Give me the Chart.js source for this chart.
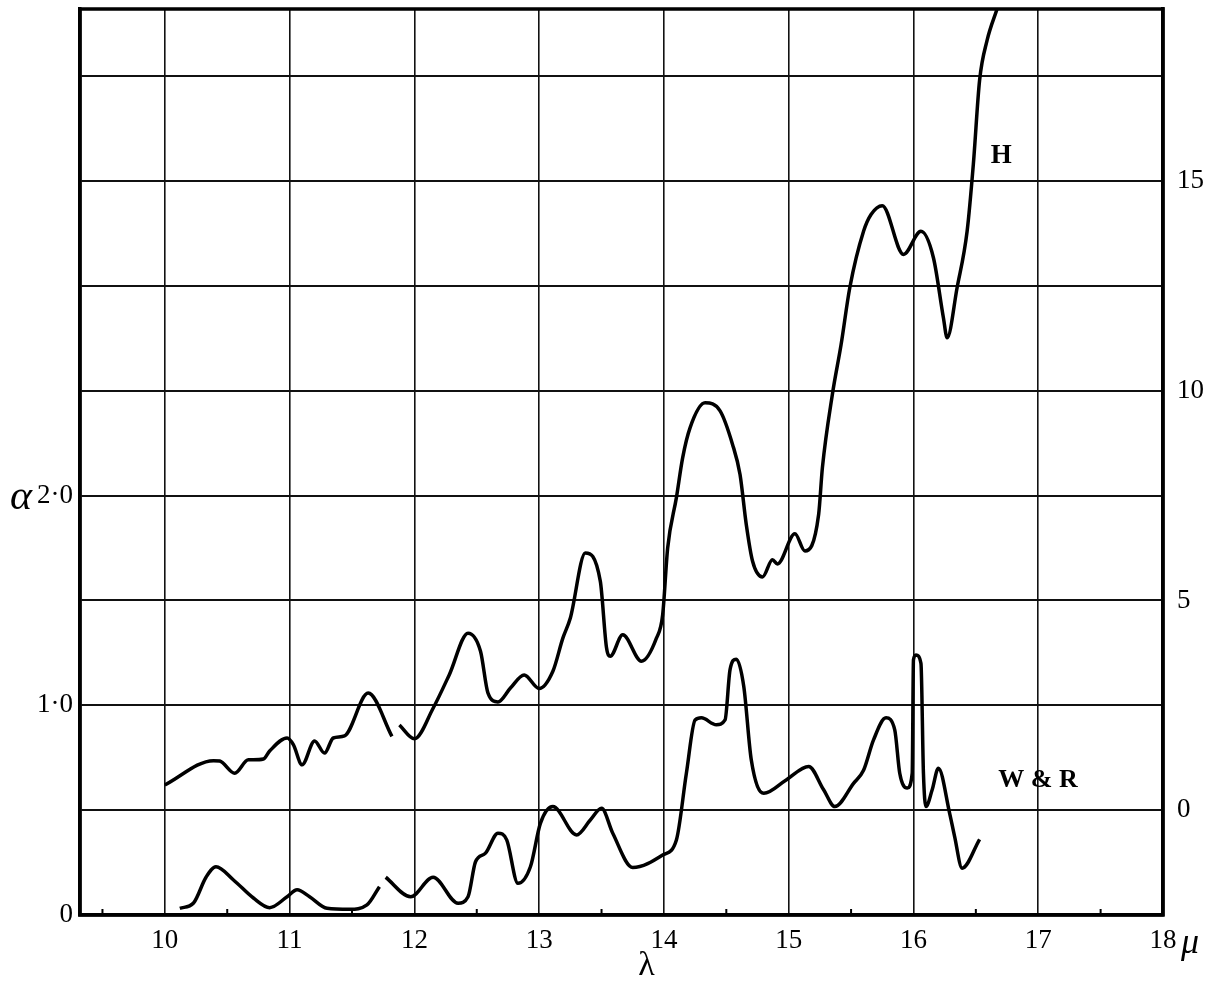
<!DOCTYPE html>
<html lang="en">
<head>
    <meta charset="UTF-8">
    <title>Absorption curves H and W &amp; R</title>
    <style>
        body {
            margin: 0;
            padding: 0;
            background-color: #ffffff;
        }

        .chart-container {
            width: 1214px;
            height: 983px;
        }
    </style>
</head>
<body>
    <div class="chart-container">
        <canvas id="absChart"></canvas>
    </div>

    <script src="https://cdn.jsdelivr.net/npm/chart.js"></script>
    <script>
        // wavelength (micron) and values
        const hLambda = [10.0, 10.39, 10.44, 10.56, 10.67, 10.71, 10.79, 10.84, 10.98, 11.03, 11.10, 11.20, 11.28, 11.35, 11.44, 11.63, 11.82, 11.85,
            11.88, 12.0, 12.15, 12.28, 12.43, 12.53, 12.59, 12.67, 12.77, 12.88, 13.0, 13.11, 13.19, 13.25, 13.37, 13.49, 13.54, 13.57,
            13.67, 13.82, 13.94, 13.99, 14.03, 14.10, 14.15, 14.21, 14.33, 14.45, 14.55, 14.61, 14.66, 14.71, 14.79, 14.87, 14.91,
            15.05, 15.13, 15.24, 15.27, 15.35, 15.42, 15.49, 15.60, 15.66, 15.75, 15.92, 16.06, 16.16, 16.24, 16.27, 16.35, 16.43,
            16.48, 16.53, 16.59, 16.67];
        // H values on the right-hand scale
        const hValues = [0.60, 1.18, 1.17, 0.88, 1.20, 1.20, 1.22, 1.41, 1.72, 1.56, 1.08, 1.65, 1.36, 1.72, 1.77, 2.79, 1.76, null,
            2.03, 1.70, 2.43, 3.23, 4.22, 3.79, 2.79, 2.58, 2.91, 3.22, 2.90, 3.31, 4.10, 4.58, 6.13, 5.46, 3.87, 3.67,
            4.18, 3.55, 4.10, 4.66, 6.25, 7.45, 8.40, 9.12, 9.71, 9.52, 8.72, 8.00, 6.81, 5.94, 5.56, 5.97, 5.87,
            6.59, 6.18, 7.05, 8.16, 9.91, 11.10, 12.46, 13.80, 14.20, 14.41, 13.25, 13.80, 13.17, 11.74, 11.26, 12.46, 13.80,
            15.40, 17.40, 18.35, 19.10];

        const wrLambda = [10.12, 10.23, 10.33, 10.41, 10.55, 10.71, 10.84, 10.98, 11.06, 11.16, 11.30, 11.48, 11.62, 11.72, 11.745,
            11.77, 11.97, 12.15, 12.35, 12.43, 12.49, 12.57, 12.67, 12.74, 12.83, 12.93, 13.01, 13.11, 13.30, 13.41, 13.50, 13.59,
            13.75, 13.99, 14.10, 14.18, 14.25, 14.30, 14.42, 14.49, 14.53, 14.58, 14.64, 14.70, 14.80, 14.98, 15.16, 15.28, 15.37,
            15.52, 15.60, 15.68, 15.78, 15.85, 15.89, 15.95, 15.99, 16.0, 16.02, 16.06, 16.08, 16.10, 16.15, 16.20, 16.29, 16.33,
            16.39, 16.53];
        // W & R values on the left-hand (alpha) scale
        const wrValues = [0.032, 0.057, 0.18, 0.23, 0.167, 0.081, 0.035, 0.087, 0.12, 0.087, 0.032, 0.027, 0.048, 0.135, null,
            0.18, 0.087, 0.18, 0.056, 0.087, 0.254, 0.295, 0.39, 0.358, 0.151, 0.23, 0.437, 0.517, 0.382, 0.453, 0.509, 0.39,
            0.226, 0.286, 0.358, 0.676, 0.93, 0.94, 0.907, 0.93, 1.17, 1.22, 1.09, 0.74, 0.58, 0.644, 0.708, 0.597, 0.517,
            0.628, 0.69, 0.835, 0.94, 0.883, 0.676, 0.605, 0.676, 1.217, 1.24, 1.2, 0.676, 0.517, 0.597, 0.70, 0.485, 0.374,
            0.223, 0.361];

        const leftTicks = { 0: '0', 1: '1·0', 2: '2·0' };
        const rightTicks = { 0: '0', 5: '5', 10: '10', 15: '15' };
        const xTicks = [10, 11, 12, 13, 14, 15, 16, 17, 18];

        const serif = '"Liberation Serif", "DejaVu Serif", serif';

        function toPoints(xs, ys) {
            return xs.map(function (x, i) { return { x: x, y: ys[i] }; });
        }

        function noPad(scale) {
            scale.paddingTop = 0;
            scale.paddingBottom = 0;
            scale.paddingLeft = 0;
            scale.paddingRight = 0;
        }

        // frame, minor ticks and the free-standing lettering
        const extras = {
            id: 'extras',
            afterDraw: function (chart) {
                const ctx = chart.ctx;
                const a = chart.chartArea;
                const xs = chart.scales.x;
                const yl = chart.scales.y;
                const yr = chart.scales.yR;
                ctx.save();
                ctx.strokeStyle = '#000';
                ctx.lineWidth = 3.5;
                ctx.strokeRect(a.left, a.top, a.right - a.left, a.bottom - a.top);

                ctx.lineWidth = 2;
                for (let v = 9.5; v < 18; v += 1) {
                    const px = xs.getPixelForValue(v);
                    ctx.beginPath();
                    ctx.moveTo(px, a.bottom);
                    ctx.lineTo(px, a.bottom - 6);
                    ctx.stroke();
                }

                ctx.fillStyle = '#000';
                ctx.textBaseline = 'middle';
                ctx.textAlign = 'center';
                ctx.font = 'italic 42px ' + serif;
                ctx.fillText('α', 21, yl.getPixelForValue(2.0) + 2);
                ctx.font = '34px ' + serif;
                ctx.fillText('λ', xs.getPixelForValue(13.86), 966);
                ctx.font = 'italic 36px ' + serif;
                ctx.fillText('μ', xs.getPixelForValue(18) + 27, 944);

                ctx.font = 'bold 27px ' + serif;
                ctx.textAlign = 'left';
                ctx.fillText('H', xs.getPixelForValue(16.62), yr.getPixelForValue(15.6));
                ctx.font = 'bold 26px ' + serif;
                ctx.fillText('W & R', xs.getPixelForValue(16.68), yl.getPixelForValue(0.64));
                ctx.restore();
            }
        };

        const config = {
            type: 'line',
            data: {
                datasets: [{
                    label: 'H',
                    data: toPoints(hLambda, hValues),
                    yAxisID: 'yR',
                    borderColor: '#000',
                    borderWidth: 3.5,
                    pointRadius: 0,
                    fill: false,
                    spanGaps: false,
                    cubicInterpolationMode: 'monotone'
                }, {
                    label: 'W & R',
                    data: toPoints(wrLambda, wrValues),
                    yAxisID: 'y',
                    borderColor: '#000',
                    borderWidth: 3.5,
                    pointRadius: 0,
                    fill: false,
                    spanGaps: false,
                    cubicInterpolationMode: 'monotone'
                }]
            },
            options: {
                responsive: true,
                maintainAspectRatio: false,
                animation: false,
                layout: { padding: { top: 9, left: 0, right: 0, bottom: 0 } },
                plugins: {
                    legend: { display: false },
                    tooltip: { enabled: false }
                },
                scales: {
                    x: {
                        type: 'linear',
                        min: 9.32,
                        max: 18,
                        afterBuildTicks: function (scale) {
                            scale.ticks = [{ value: 9.32 }].concat(xTicks.map(function (v) { return { value: v }; }));
                        },
                        afterFit: function (scale) { scale.height = 68; noPad(scale); },
                        grid: { color: '#111', lineWidth: 1.6, drawTicks: false },
                        border: { color: '#000', width: 3.5 },
                        ticks: {
                            color: '#000',
                            padding: 10,
                            maxRotation: 0,
                            autoSkip: false,
                            font: { family: serif, size: 27 },
                            callback: function (v) { return xTicks.indexOf(v) >= 0 ? String(v) : ''; }
                        }
                    },
                    y: {
                        position: 'left',
                        min: 0,
                        max: 4.32,
                        afterBuildTicks: function (scale) {
                            const t = [];
                            for (let v = 0; v <= 4.0; v += 0.5) t.push({ value: v });
                            scale.ticks = t;
                        },
                        afterFit: function (scale) { scale.width = 80; noPad(scale); },
                        grid: { color: '#111', lineWidth: 2, drawTicks: false },
                        border: { color: '#000', width: 3.5 },
                        ticks: {
                            color: '#000',
                            padding: 7,
                            autoSkip: false,
                            font: { family: serif, size: 27 },
                            callback: function (v) { return leftTicks[v] !== undefined ? leftTicks[v] : ''; }
                        }
                    },
                    yR: {
                        position: 'right',
                        min: -2.5,
                        max: 19.1,
                        afterBuildTicks: function (scale) {
                            scale.ticks = [0, 5, 10, 15].map(function (v) { return { value: v }; });
                        },
                        afterFit: function (scale) { scale.width = 51; noPad(scale); },
                        grid: { display: false, drawTicks: false },
                        border: { color: '#000', width: 3.5 },
                        ticks: {
                            color: '#000',
                            padding: 14,
                            autoSkip: false,
                            font: { family: serif, size: 27 },
                            callback: function (v) { return rightTicks[v] !== undefined ? rightTicks[v] : ''; }
                        }
                    }
                }
            },
            plugins: [extras]
        };

        window.onload = function () {
            const ctx = document.getElementById('absChart').getContext('2d');
            new Chart(ctx, config);
        };
    </script>
</body>
</html>
